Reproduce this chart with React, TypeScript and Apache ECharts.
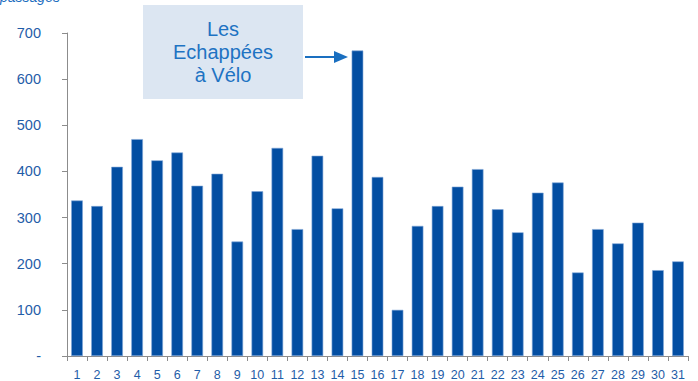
import React, { useEffect, useRef } from "react";
import * as echarts from "echarts";

const days = Array.from({ length: 31 }, (_, i) => String(i + 1));
const passages = [
  337, 325, 410, 470, 424, 441, 369, 395, 248, 357,
  451, 275, 434, 320, 662, 388, 100, 282, 325, 367,
  405, 318, 268, 354, 376, 181, 275, 244, 289, 186, 205,
];
const yTicks = [0, 100, 200, 300, 400, 500, 600, 700];
const annotationText = "Les\nEchappées\nà Vélo";
const unitText = "passages";

export default function App() {
  const ref = useRef<HTMLDivElement>(null);
  useEffect(() => {
    if (!ref.current) return;
    const chart = echarts.init(ref.current, undefined, { renderer: "svg" });
    const labelColor = "#1F5DA8";
    chart.setOption({
      animation: false,
      grid: { left: 67, right: 10, top: 33, bottom: 25 },
      xAxis: {
        type: "category",
        data: days,
        axisLine: { lineStyle: { color: "#8c8c8c", width: 1 } },
        axisTick: { show: true, length: 5, lineStyle: { color: "#8c8c8c" } },
        axisLabel: {
          color: labelColor,
          fontFamily: "Liberation Sans, Arial, sans-serif",
          fontSize: 12.5,
          margin: 12,
          interval: 0,
        },
      },
      yAxis: {
        type: "value",
        min: yTicks[0],
        max: yTicks[yTicks.length - 1],
        interval: 100,
        splitLine: { show: false },
        axisLine: { show: true, lineStyle: { color: "#8c8c8c", width: 1 } },
        axisTick: { show: true, length: 5, lineStyle: { color: "#8c8c8c" } },
        axisLabel: {
          color: labelColor,
          fontFamily: "Liberation Sans, Arial, sans-serif",
          fontSize: 14.5,
          margin: 26,
          formatter: (v: number) => (v === 0 ? "-" : String(v)),
        },
      },
      series: [
        {
          type: "bar",
          data: passages,
          barWidth: "58%",
          itemStyle: {
            color: "#034EA2",
            borderColor: "#7FA6D6",
            borderWidth: 0.6,
          },
        },
      ],
      graphic: [
        {
          type: "text",
          x: 0,
          y: 4,
          style: {
            text: unitText,
            fill: "#1F6FBF",
            font: "italic 14px Liberation Sans, Arial, sans-serif",
            verticalAlign: "bottom",
          },
          z: 10,
        },
        {
          type: "rect",
          shape: { x: 143, y: 5, width: 160, height: 94 },
          style: { fill: "#DCE6F2" },
          z: 10,
        },
        {
          type: "text",
          x: 223,
          y: 52,
          style: {
            text: annotationText,
            fill: "#1E73C3",
            font: "20px Liberation Sans, Arial, sans-serif",
            align: "center",
            verticalAlign: "middle",
            lineHeight: 23,
          },
          z: 11,
        },
        {
          type: "line",
          shape: { x1: 305, y1: 57, x2: 336, y2: 57 },
          style: { stroke: "#1A6FC0", lineWidth: 2 },
          z: 11,
        },
        {
          type: "polygon",
          shape: { points: [[334, 51], [348, 57], [334, 63]] },
          style: { fill: "#1A6FC0" },
          z: 11,
        },
      ],
    });
    return () => chart.dispose();
  }, []);
  return (
    <div
      ref={ref}
      style={{ position: "fixed", left: 0, top: 0, width: 698, height: 381, background: "#fff" }}
    />
  );
}
